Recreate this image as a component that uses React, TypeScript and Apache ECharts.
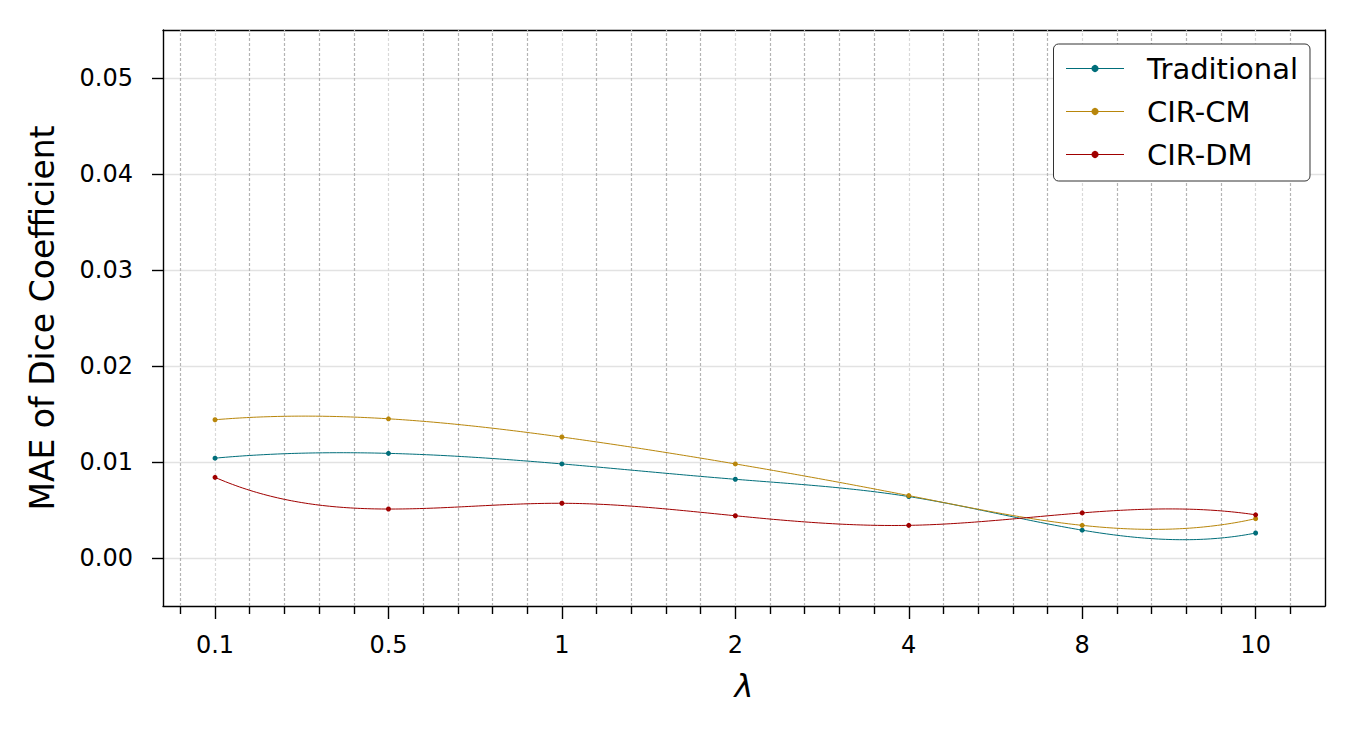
import React, { useEffect, useRef } from "react";
import * as echarts from "echarts";

const categories = ["0.1", "0.5", "1", "2", "4", "8", "10"];
const traditional = [0.0104, 0.0109, 0.0098, 0.0082, 0.0064, 0.0029, 0.0026];
const cirCM = [0.0144, 0.0145, 0.0126, 0.0098, 0.0065, 0.0034, 0.0041];
const cirDM = [0.0084, 0.0051, 0.0057, 0.0044, 0.0034, 0.0047, 0.0045];
const seriesNames = ["Traditional", "CIR-CM", "CIR-DM"];
const seriesColors = ["#006e7a", "#b8860b", "#a00000"];
const yTicks = [0, 0.01, 0.02, 0.03, 0.04, 0.05];
const xMajorTicks = [0, 1, 2, 3, 4, 5, 6];
const xMinorTicks = [
  -0.2, 0.2, 0.4, 0.6, 0.8, 1.2, 1.4, 1.6, 1.8, 2.2, 2.4, 2.6, 2.8, 3.2, 3.4,
  3.6, 3.8, 4.2, 4.4, 4.6, 4.8, 5.2, 5.4, 5.6, 5.8, 6.2,
];

const FONT = "DejaVu Sans";

// Cubic spline (not-a-knot ends, unit spacing) used only to draw the curve between data points.
function splineSecondDerivs(y: number[]): number[] {
  const n = y.length;
  const A: number[][] = [];
  const b: number[] = [];
  for (let i = 0; i < n; i++) {
    A.push(new Array(n).fill(0));
    b.push(0);
  }
  A[0][0] = 1; A[0][1] = -2; A[0][2] = 1;
  for (let i = 1; i < n - 1; i++) {
    A[i][i - 1] = 1; A[i][i] = 4; A[i][i + 1] = 1;
    b[i] = 6 * (y[i + 1] - 2 * y[i] + y[i - 1]);
  }
  A[n - 1][n - 3] = 1; A[n - 1][n - 2] = -2; A[n - 1][n - 1] = 1;
  // Gaussian elimination with partial pivoting
  for (let c = 0; c < n; c++) {
    let p = c;
    for (let r = c + 1; r < n; r++) if (Math.abs(A[r][c]) > Math.abs(A[p][c])) p = r;
    [A[c], A[p]] = [A[p], A[c]];
    [b[c], b[p]] = [b[p], b[c]];
    for (let r = c + 1; r < n; r++) {
      const f = A[r][c] / A[c][c];
      if (f === 0) continue;
      for (let k = c; k < n; k++) A[r][k] -= f * A[c][k];
      b[r] -= f * b[c];
    }
  }
  const M = new Array(n).fill(0);
  for (let r = n - 1; r >= 0; r--) {
    let s = b[r];
    for (let k = r + 1; k < n; k++) s -= A[r][k] * M[k];
    M[r] = s / A[r][r];
  }
  return M;
}

function splineAt(y: number[], M: number[], x: number): number {
  const n = y.length;
  let i = Math.floor(x);
  if (i >= n - 1) i = n - 2;
  if (i < 0) i = 0;
  const t = x - i;
  const u = 1 - t;
  return u * y[i] + t * y[i + 1] + ((u * u * u - u) * M[i]) / 6 + ((t * t * t - t) * M[i + 1]) / 6;
}

export default function App() {
  const ref = useRef<HTMLDivElement>(null);
  useEffect(() => {
    if (!ref.current) return;
    const chart = echarts.init(ref.current, undefined, { renderer: "svg" });
    const values = [traditional, cirCM, cirDM];
    const xBase = {
      type: "value",
      min: -0.3,
      max: 6.4,
      gridIndex: 0,
    };
    const gridMarkLine = {
      silent: true,
      symbol: "none",
      label: { show: false },
      animation: false,
      z: 1,
      data: [
        ...xMajorTicks.map((v) => ({
          xAxis: v,
          lineStyle: { color: "#d9d9d9", width: 1.2, type: [3, 2] },
        })),
        ...xMinorTicks.map((v) => ({
          xAxis: v,
          lineStyle: { color: "#b4b4b4", width: 1.2, type: [3, 2] },
        })),
      ],
    };

    const curveSeries = seriesNames.map((name, si) => {
      const ys = values[si];
      const M = splineSecondDerivs(ys);
      return {
        name: name + " curve",
        type: "custom",
        xAxisIndex: 0,
        yAxisIndex: 0,
        silent: true,
        z: 2 + si,
        encode: { x: 0, y: 1 },
        data: categories.map((_, i) => [i, ys[i]]),
        renderItem: (params: any, api: any) => {
          if (params.dataIndex !== 0) return null;
          const pts: number[][] = [];
          const steps = 300;
          const last = categories.length - 1;
          for (let k = 0; k <= steps; k++) {
            const x = (k / steps) * last;
            pts.push(api.coord([x, splineAt(ys, M, x)]));
          }
          return {
            type: "polyline",
            shape: { points: pts },
            style: { stroke: seriesColors[si], lineWidth: 1, fill: "none" },
          };
        },
      };
    });

    const pointSeries = seriesNames.map((name, si) => ({
      name,
      type: "line",
      xAxisIndex: 0,
      yAxisIndex: 0,
      symbol: "circle",
      symbolSize: 5,
      showSymbol: true,
      color: seriesColors[si],
      itemStyle: { color: seriesColors[si] },
      lineStyle: { color: seriesColors[si], width: 1, opacity: 0 },
      data: categories.map((_, i) => [i, values[si][i]]),
      z: 6 + si,
      ...(si === 0 ? { markLine: gridMarkLine } : {}),
    }));

    chart.setOption({
      animation: false,
      backgroundColor: "#ffffff",
      grid: { left: 163, right: 30, top: 30, bottom: 132, containLabel: false },
      legend: {
        data: seriesNames,
        orient: "vertical",
        right: 45,
        top: 44,
        itemWidth: 58,
        itemHeight: 9,
        itemGap: 14,
        padding: [10, 12, 12, 12],
        borderColor: "#333333",
        borderWidth: 1,
        borderRadius: 5,
        backgroundColor: "#ffffff",
        lineStyle: { opacity: 1, width: 1 },
        textStyle: {
          fontFamily: FONT,
          fontSize: 29,
          color: "#000",
          padding: [0, 0, 0, 18],
        },
      },
      xAxis: [
        {
          ...xBase,
          position: "bottom",
          name: "λ",
          nameLocation: "middle",
          nameGap: 64,
          nameTextStyle: {
            fontFamily: FONT,
            fontSize: 32,
            fontStyle: "italic",
            color: "#000",
          },
          axisLine: { show: true, onZero: false, lineStyle: { color: "#000", width: 1.4 } },
          axisTick: {
            show: true,
            customValues: xMajorTicks,
            length: 13,
            lineStyle: { color: "#000", width: 1.4 },
          },
          axisLabel: {
            customValues: xMajorTicks,
            formatter: (v: number) => categories[Math.round(v)] ?? "",
            fontFamily: FONT,
            fontSize: 24,
            color: "#000",
            margin: 27,
          },
          splitLine: { show: false },
        },
        {
          ...xBase,
          position: "bottom",
          axisLine: { show: false, onZero: false },
          axisTick: {
            show: true,
            customValues: xMinorTicks,
            length: 8,
            lineStyle: { color: "#000", width: 1.4 },
          },
          axisLabel: { show: false },
          splitLine: { show: false },
        },
        {
          ...xBase,
          position: "top",
          axisLine: { show: true, onZero: false, lineStyle: { color: "#000", width: 1.4 } },
          axisTick: { show: false },
          axisLabel: { show: false },
          splitLine: { show: false },
        },
      ],
      yAxis: [
        {
          type: "value",
          min: -0.005,
          max: 0.055,
          position: "left",
          name: "MAE of Dice Coefficient",
          nameLocation: "middle",
          nameGap: 104,
          nameTextStyle: { fontFamily: FONT, fontSize: 33, color: "#000" },
          axisLine: { show: true, onZero: false, lineStyle: { color: "#000", width: 1.4 } },
          axisTick: {
            show: true,
            customValues: yTicks,
            length: 11,
            lineStyle: { color: "#000", width: 1.4 },
          },
          axisLabel: {
            customValues: yTicks,
            formatter: (v: number) => v.toFixed(2),
            fontFamily: FONT,
            fontSize: 24,
            color: "#000",
            margin: 30,
          },
          splitLine: {
            show: true,
            lineStyle: { color: "#e2e2e2", width: 1.3, type: "solid" },
          },
        },
        {
          type: "value",
          min: -0.005,
          max: 0.055,
          position: "right",
          axisLine: { show: true, onZero: false, lineStyle: { color: "#000", width: 1.4 } },
          axisTick: { show: false },
          axisLabel: { show: false },
          splitLine: { show: false },
        },
      ],
      series: [...pointSeries, ...curveSeries],
    });
    return () => chart.dispose();
  }, []);
  return (
    <div
      ref={ref}
      style={{ position: "fixed", left: 0, top: 0, width: 1355, height: 738 }}
    />
  );
}
